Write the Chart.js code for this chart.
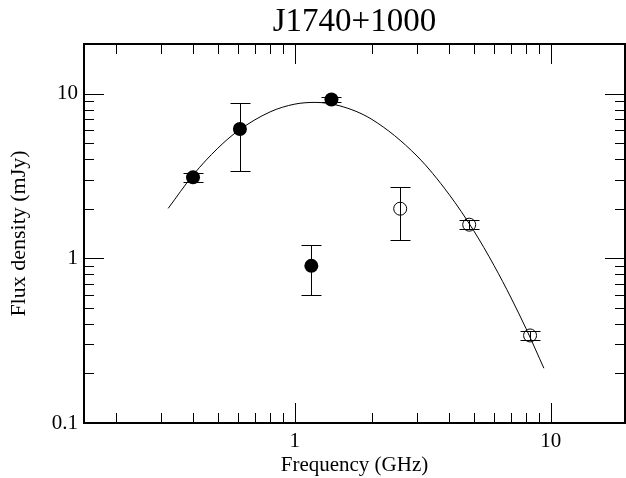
<!DOCTYPE html>
<html>
<head>
<meta charset="utf-8">
<title>J1740+1000</title>
<script src="https://cdn.jsdelivr.net/npm/chart.js@4.4.0/dist/chart.umd.min.js"></script>
<style>
  html, body { margin: 0; padding: 0; background: #fff; }
  #wrap { width: 626px; height: 478px; }
</style>
</head>
<body>
<div id="wrap"><canvas id="spectrum" width="626" height="478"></canvas></div>
<script>
// Measured flux densities (GHz, mJy) and their errors
var filledFreq = [0.40, 0.61, 1.16, 1.39];
var filledFlux = [3.1, 6.1, 0.9, 9.2];
var filledErr  = [0.2, 2.7, 0.3, 0.3];

var openFreq = [2.58, 4.8, 8.3];
var openFlux = [2.0, 1.6, 0.34];
var openErr  = [0.7, 0.1, 0.02];

// Fitted spectrum
var fitFreq = [0.32, 0.4, 0.5, 0.6, 0.8, 1.0, 1.2, 1.5, 2, 3, 4, 5, 6, 7, 8, 9.4];
var fitFlux = [2.01, 3.20, 4.66, 5.94, 7.74, 8.63, 8.84, 8.42, 6.97, 4.18, 2.45, 1.47, 0.905, 0.574, 0.375, 0.215];

var xTicks = [1, 10];
var yTicks = [0.1, 1, 10];

var serif = "'Liberation Serif', 'Times New Roman', serif";
Chart.defaults.font.family = serif;
Chart.defaults.color = '#000';

// big markers would otherwise pull the frame in from the right edge
Chart.ScatterController.prototype.getMaxOverflow = function () { return 0; };

function pts(xs, ys) {
    return xs.map(function (x, i) { return { x: x, y: ys[i] }; });
}

// 1..9 x 10^n inside (min, max)
function logTicks(min, max) {
    var out = [];
    for (var d = Math.floor(Math.log10(min)); d <= Math.ceil(Math.log10(max)); d++) {
        for (var m = 1; m <= 9; m++) {
            var v = m * Math.pow(10, d);
            if (v > min * 1.0001 && v < max * 0.9999) out.push({ v: v, major: m === 1 });
        }
    }
    return out;
}

// vertical error bars with caps, drawn under the markers
var errorBars = {
    id: 'errorBars',
    beforeDatasetsDraw: function (chart) {
        var ctx = chart.ctx;
        var xs = chart.scales.x, ys = chart.scales.y;
        var sets = [[filledFreq, filledFlux, filledErr], [openFreq, openFlux, openErr]];
        ctx.save();
        ctx.strokeStyle = '#000';
        ctx.lineWidth = 1;
        ctx.beginPath();
        sets.forEach(function (s) {
            s[0].forEach(function (f, i) {
                var px = Math.round(xs.getPixelForValue(f)) + 0.5;
                var top = Math.round(ys.getPixelForValue(s[1][i] + s[2][i])) + 0.5;
                var bot = Math.round(ys.getPixelForValue(s[1][i] - s[2][i])) + 0.5;
                ctx.moveTo(px, top); ctx.lineTo(px, bot);
                ctx.moveTo(px - 10, top); ctx.lineTo(px + 10, top);
                ctx.moveTo(px - 10, bot); ctx.lineTo(px + 10, bot);
            });
        });
        ctx.stroke();
        ctx.restore();
    }
};

// box frame with inward ticks on all four sides
var frameTicks = {
    id: 'frameTicks',
    afterDraw: function (chart) {
        var ctx = chart.ctx, a = chart.chartArea;
        var xs = chart.scales.x, ys = chart.scales.y;
        ctx.save();
        ctx.strokeStyle = '#000';
        ctx.lineWidth = 1;
        ctx.beginPath();
        logTicks(xs.min, xs.max).forEach(function (t) {
            var px = Math.round(xs.getPixelForValue(t.v)) + 0.5;
            var len = t.major ? 20 : 10;
            ctx.moveTo(px, a.bottom); ctx.lineTo(px, a.bottom - len);
            ctx.moveTo(px, a.top); ctx.lineTo(px, a.top + len);
        });
        logTicks(ys.min, ys.max).forEach(function (t) {
            var py = Math.round(ys.getPixelForValue(t.v)) + 0.5;
            var len = t.major ? 20 : 10;
            ctx.moveTo(a.left, py); ctx.lineTo(a.left + len, py);
            ctx.moveTo(a.right, py); ctx.lineTo(a.right - len, py);
        });
        ctx.stroke();
        ctx.lineWidth = 2;
        ctx.strokeRect(a.left, a.top, a.right - a.left, a.bottom - a.top);
        ctx.restore();
    }
};

new Chart(document.getElementById('spectrum'), {
    type: 'scatter',
    data: {
        datasets: [
            {
                type: 'line',
                data: pts(fitFreq, fitFlux),
                borderColor: '#000',
                borderWidth: 1,
                pointRadius: 0,
                fill: false,
                cubicInterpolationMode: 'monotone'
            },
            {
                data: pts(filledFreq, filledFlux),
                pointRadius: 7,
                pointBackgroundColor: '#000',
                pointBorderColor: '#000',
                pointBorderWidth: 0
            },
            {
                data: pts(openFreq, openFlux),
                pointRadius: 6.5,
                pointBackgroundColor: 'rgba(0,0,0,0)',
                pointBorderColor: '#000',
                pointBorderWidth: 1
            }
        ]
    },
    options: {
        responsive: false,
        animation: false,
        events: [],
        layout: { padding: { right: 1 } },
        plugins: {
            legend: { display: false },
            tooltip: { enabled: false },
            title: {
                display: true,
                text: 'J1740+1000',
                fullSize: false,
                color: '#000',
                font: { family: serif, size: 33, weight: 'normal' },
                padding: { top: 3, bottom: 1.4 }
            }
        },
        scales: {
            x: {
                type: 'logarithmic',
                min: 0.15,
                max: 19.5,
                grid: { display: false, drawTicks: false },
                border: { display: false },
                afterBuildTicks: function (s) { s.ticks = xTicks.map(function (v) { return { value: v }; }); },
                afterFit: function (s) {
                    s.height = 55;
                    s.paddingLeft = 0;
                    s.paddingRight = 0;
                },
                ticks: {
                    color: '#000',
                    font: { family: serif, size: 21 },
                    padding: 6,
                    maxRotation: 0,
                    autoSkip: false,
                    callback: function (v) { return String(v); }
                },
                title: {
                    display: true,
                    text: 'Frequency (GHz)',
                    color: '#000',
                    font: { family: serif, size: 21 },
                    padding: { top: 0, bottom: 0 }
                }
            },
            y: {
                type: 'logarithmic',
                min: 0.1,
                max: 20,
                grid: { display: false, drawTicks: false },
                border: { display: false },
                afterBuildTicks: function (s) { s.ticks = yTicks.map(function (v) { return { value: v }; }); },
                afterFit: function (s) { s.width = 84; },
                ticks: {
                    color: '#000',
                    font: { family: serif, size: 21 },
                    padding: 6,
                    autoSkip: false,
                    callback: function (v) { return String(v); }
                },
                title: {
                    display: true,
                    text: 'Flux density (mJy)',
                    color: '#000',
                    font: { family: serif, size: 22 },
                    padding: { top: 6, bottom: 0 }
                }
            }
        }
    },
    plugins: [errorBars, frameTicks]
});
</script>
</body>
</html>
